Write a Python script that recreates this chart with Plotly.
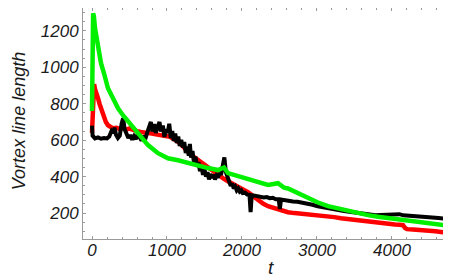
import plotly.graph_objects as go

# ---- data ----
black_t = [0, 8, 40, 80, 120, 160, 200, 230, 260, 280, 300, 320, 345, 370, 395, 415, 435, 460, 485, 510,
           535, 560, 585, 610, 635, 660, 685, 710, 735, 760, 785, 805, 830, 850, 875, 900, 920, 945, 965, 990,
           1010, 1030, 1050, 1070, 1090, 1110, 1130, 1150, 1170, 1190, 1210, 1230, 1250, 1270, 1290, 1305, 1320,
           1340, 1360, 1380, 1400, 1420, 1440, 1460, 1480, 1500, 1520, 1540, 1560, 1580, 1600, 1620, 1640, 1660,
           1680, 1700, 1720, 1745, 1765, 1785, 1805, 1830, 1850, 1870, 1890, 1910, 1930, 1950, 1970, 1990, 2010,
           2040, 2070, 2100, 2115, 2130, 2170, 2210, 2250, 2290, 2330, 2370, 2410, 2450, 2490, 2505, 2520, 2570,
           2620, 2680, 2740, 2800, 2870, 2940, 3010, 3080, 3150, 3220, 3290, 3360, 3430, 3500, 3570, 3640, 3710,
           3780, 3850, 3920, 3990, 4060, 4100, 4150, 4220, 4300, 4380, 4460, 4540, 4620, 4700, 4770]
black_L = [680, 625, 610, 615, 608, 612, 610, 620, 650, 640, 668, 630, 612, 625, 690, 720, 660, 635, 612, 628,
           603, 622, 606, 635, 612, 598, 625, 606, 640, 668, 700, 648, 688, 640, 672, 700, 648, 680, 618, 660,
           640, 690, 612, 650, 596, 636, 585, 620, 568, 602, 560, 590, 530, 565, 515, 580, 505,
           540, 478, 510, 455, 480, 430, 455, 410, 440, 400, 425, 385, 415, 392, 412, 385, 405,
           395, 420, 410, 460, 505, 425, 395, 372, 350, 362, 335, 345, 325, 335, 318, 325, 310,
           312, 302, 300, 205, 298, 296, 292, 290, 286, 288, 282, 284, 276, 276, 222, 274, 270,
           268, 264, 262, 258, 252, 246, 238, 232, 226, 222, 216, 212, 208, 203, 198, 193, 190,
           188, 189, 191, 193, 198, 194, 188, 185, 183, 181, 179, 176, 173, 170, 168]

red_t = [0, 8, 18, 28, 40, 60, 80, 100, 120, 140, 160, 185, 213, 250, 280, 330, 380, 413, 460, 500, 547, 600,
         650, 700, 747, 800, 850, 900, 947, 1000, 1040, 1080, 1130, 1173, 1210, 1253, 1300, 1347, 1393, 1440,
         1490, 1547, 1610, 1680, 1745, 1813, 1880, 1947, 2013, 2080, 2150, 2213, 2280, 2347, 2413, 2480, 2547,
         2613, 2700, 2780, 2880, 2960, 3050, 3147, 3230, 3320, 3413, 3500, 3590, 3680, 3770, 3860, 3947, 4040,
         4100, 4147, 4175, 4200, 4280, 4380, 4480, 4580, 4680, 4773]
red_L = [640, 760, 880, 908, 880, 860, 830, 800, 775, 745, 720, 700, 682, 670, 665, 668, 660, 668, 658, 664, 655, 650,
         645, 640, 638, 636, 632, 630, 627, 622, 618, 611, 596, 584, 565, 545, 528, 512, 498, 485,
         466, 447, 428, 408, 392, 375, 362, 348, 330, 315, 292, 271, 252, 238, 229, 222, 212,
         205, 200, 197, 195, 191, 188, 184, 178, 172, 167, 160, 155, 151, 146, 142, 140, 137,
         136, 134, 118, 112, 110, 108, 106, 100, 95, 90]

green_t = [0, 8, 15, 25, 40, 80, 120, 160, 213, 280, 347, 413, 480, 547, 613, 680, 747, 880, 1013, 1147, 1280,
           1413, 1547, 1680, 1760, 1813, 1947, 2080, 2213, 2347, 2480, 2560, 2613, 2747, 2880, 3013, 3147, 3280,
           3413, 3547, 3680, 3813, 3947, 4080, 4213, 4347, 4480, 4600, 4690]
green_L = [760, 1050, 1296, 1280, 1214, 1104, 1022, 967, 885, 830, 775, 737, 704, 666, 638, 605, 573, 529, 501,
           490, 474, 463, 447, 436, 450, 419, 403, 381, 370, 355, 364, 340, 335, 310, 280, 258, 238, 225,
           215, 200, 189, 180, 173, 165, 156, 150, 145, 140, 134]

x_ticks = [0, 1000, 2000, 3000, 4000]
y_ticks = [200, 400, 600, 800, 1000, 1200]
x_title = "t"
y_title = "Vortex line length"

FONT = "Liberation Sans"
TXT = "#1a1a1a"
AX = "#9a9a9a"

fig = go.Figure()
fig.add_trace(go.Scatter(x=red_t, y=red_L, mode="lines",
                         line=dict(color="#ff0000", width=4.5), showlegend=False))
fig.add_trace(go.Scatter(x=black_t, y=black_L, mode="lines",
                         line=dict(color="#000000", width=4), showlegend=False))
fig.add_trace(go.Scatter(x=green_t, y=green_L, mode="lines",
                         line=dict(color="#00f000", width=4.5), showlegend=False))

axis_common = dict(
    showgrid=False, zeroline=False, showline=True, linecolor=AX, linewidth=1,
    mirror="ticks", ticks="inside", ticklen=3, tickcolor=AX, tickwidth=1,
    tickfont=dict(family=FONT, size=17, color=TXT, style="italic"),
)

fig.update_layout(
    width=451, height=277,
    margin=dict(l=75, r=2, t=0, b=46),
    paper_bgcolor="white", plot_bgcolor="white",
    xaxis=dict(range=[-120, 4867], tickvals=x_ticks, ticklabelstandoff=-4,
               minor=dict(ticks="inside", ticklen=2, dtick=200, tick0=0, tickcolor=AX),
               **axis_common),
    yaxis=dict(range=[58, 1325], tickvals=y_ticks,
               minor=dict(ticks="inside", ticklen=2, dtick=50, tick0=0, tickcolor=AX),
               **axis_common),
    annotations=[
        dict(text=x_title, xref="paper", yref="paper", x=0.503, y=-0.124,
             xanchor="center", yanchor="middle", showarrow=False, borderpad=0,
             font=dict(family=FONT, size=19, color=TXT, style="italic")),
        dict(text=y_title, xref="paper", yref="paper", x=-0.171, y=0.51,
             xanchor="center", yanchor="middle", showarrow=False, textangle=-90, borderpad=0,
             font=dict(family=FONT, size=18, color=TXT, style="italic")),
    ],
)

fig.write_html("out.html")
